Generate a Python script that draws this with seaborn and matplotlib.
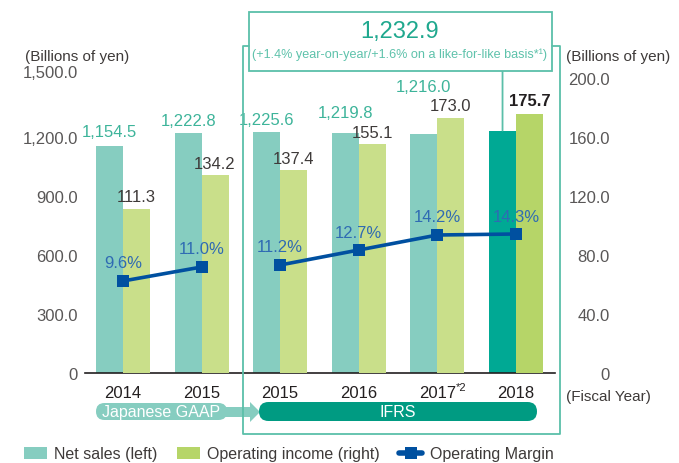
import numpy as np
import pandas as pd
import matplotlib
matplotlib.use("Agg")
import matplotlib.pyplot as plt
import seaborn as sns
from matplotlib.patches import FancyBboxPatch, Rectangle, Polygon, Patch
from matplotlib.lines import Line2D
from matplotlib.transforms import Affine2D, ScaledTranslation

# ---- data -------------------------------------------------------------
periods = ["2014 J-GAAP", "2015 J-GAAP", "2015 IFRS", "2016 IFRS", "2017 IFRS", "2018 IFRS"]
year_labels = ["2014", "2015", "2015", "2016", "2017", "2018"]
year_notes = ["", "", "", "", "*2", ""]
standards = ["Japanese GAAP", "Japanese GAAP", "IFRS", "IFRS", "IFRS", "IFRS"]
net_sales = [1154.5, 1222.8, 1225.6, 1219.8, 1216.0, 1232.9]          # billions of yen
operating_income = [111.3, 134.2, 137.4, 155.1, 173.0, 175.7]         # billions of yen
operating_margin = [9.6, 11.0, 11.2, 12.7, 14.2, 14.3]                # %
left_ticks = [0, 300, 600, 900, 1200, 1500]
right_ticks = [0, 40, 80, 120, 160, 200]
series_names = ["Net sales (left)", "Operating income (right)", "Operating Margin"]

# ---- styling ----------------------------------------------------------
sns.set_style("white")
plt.rcParams["font.family"] = ["Liberation Sans", "DejaVu Sans"]

TEAL = "#86cdc0"
TEAL_DARK = "#00a994"
GREEN = "#c9df8a"
GREEN_DARK = "#b6d568"
BLUE = "#0050a0"
BLUE_TXT = "#2f6bb3"
SALES_TXT = "#3db49a"
FRAME = "#5bbfa9"
IFRS_FILL = "#009b82"
INK = "#3e3a39"
TICK_GREY = "#595757"

W, H = 679, 464
fig = plt.figure(figsize=(W / 100, H / 100), dpi=100)
# pixel coordinates measured from the top-left corner of the figure
T = Affine2D().scale(1 / W, -1 / H).translate(0, 1) + fig.transFigure

ax1 = fig.add_axes([85 / W, (H - 374) / H, 470 / W, 295 / H])
ax2 = ax1.twinx()
ax3 = ax1.twinx()

BAR_W = 0.686
half = BAR_W / 4

df_sales = pd.DataFrame({"period": periods, "series": series_names[0], "value": net_sales})
df_income = pd.DataFrame({"period": periods, "series": series_names[1], "value": operating_income})
palette = {series_names[0]: TEAL, series_names[1]: GREEN}

sns.barplot(data=df_sales, x="period", y="value", hue="series", hue_order=series_names[:2],
            order=periods, palette=palette, width=BAR_W, dodge=True, errorbar=None,
            saturation=1, linewidth=0, legend=False, ax=ax1)
sns.barplot(data=df_income, x="period", y="value", hue="series", hue_order=series_names[:2],
            order=periods, palette=palette, width=BAR_W, dodge=True, errorbar=None,
            saturation=1, linewidth=0, legend=False, ax=ax2)

# latest fiscal year highlighted in stronger tones
max(ax1.patches, key=lambda p: p.get_x()).set_facecolor(TEAL_DARK)
max(ax2.patches, key=lambda p: p.get_x()).set_facecolor(GREEN_DARK)

df_margin = pd.DataFrame({"x": np.arange(len(periods)), "margin": operating_margin,
                          "standard": standards})
sns.lineplot(data=df_margin, x="x", y="margin", units="standard", estimator=None, sort=False,
             color=BLUE, lw=2.6, marker="s", markersize=8.5, markeredgewidth=0,
             legend=False, ax=ax3)

# ---- axes -------------------------------------------------------------
ax1.set_xlim(-0.483, 5.496)
ax1.set_ylim(0, 1500)
ax2.set_ylim(0, 200)
ax3.set_ylim(0.4, 29.9)
ax3.set_axis_off()

ax1.set_xticks(range(len(periods)))
ax1.set_xticklabels(year_labels)
ax1.tick_params(axis="x", length=0, pad=9, labelsize=12, labelcolor="#231f20")
for i, note in enumerate(year_notes):
    if note:
        ax1.annotate(note, xy=(i, 0), xycoords=("data", "axes fraction"), xytext=(18, -14),
                     textcoords="offset pixels", ha="left", va="center", fontsize=8,
                     color="#231f20")
ax1.set_yticks(left_ticks)
ax1.set_yticklabels(["0" if v == 0 else f"{v:,.1f}" for v in left_ticks])
ax1.tick_params(axis="y", length=0, pad=5, labelsize=12, labelcolor=TICK_GREY)
ax2.set_yticks(right_ticks)
ax2.set_yticklabels(["0" if v == 0 else f"{v:,.1f}" for v in right_ticks], ha="right")
ax2.tick_params(axis="y", length=0, pad=39.6, labelsize=12, labelcolor=TICK_GREY)
for a in (ax1, ax2):
    a.set_xlabel("")
    a.set_ylabel("")
    for s in a.spines.values():
        s.set_visible(False)
ax1.spines["bottom"].set_visible(True)
ax1.spines["bottom"].set_color("#231f20")
ax1.spines["bottom"].set_linewidth(1.2)

top_lbl = ax1.get_yticklabels()[-1]
top_lbl.set_transform(top_lbl.get_transform() + ScaledTranslation(0, 7 / 100, fig.dpi_scale_trans))

# ---- value labels -----------------------------------------------------
sales_offsets = [14, 12.5, 12, 21, 47]
for i, v in enumerate(net_sales[:-1]):
    ax1.annotate(f"{v:,.1f}", (i - half, v), xytext=(0, sales_offsets[i]),
                 textcoords="offset pixels", ha="center", va="center",
                 fontsize=12, color=SALES_TXT)
for i, v in enumerate(operating_income):
    last = i == len(operating_income) - 1
    ax2.annotate(f"{v:,.1f}", (i + half, v), xytext=(0, 13 if last else 12),
                 textcoords="offset pixels", ha="center", va="center",
                 fontsize=12, color="#231f20" if last else INK,
                 fontweight="bold" if last else "normal")
for i, v in enumerate(operating_margin):
    ax3.annotate(f"{v:.1f}%", (i, v), xytext=(0, 18), textcoords="offset pixels",
                 ha="center", va="center", fontsize=12, color=BLUE_TXT)

# ---- unit captions ----------------------------------------------------
fig.text(25, 57, "(Billions of yen)", transform=T, ha="left", va="center", fontsize=11, color=INK)
fig.text(566, 57, "(Billions of yen)", transform=T, ha="left", va="center", fontsize=11, color=INK)
fig.text(566, 397, "(Fiscal Year)", transform=T, ha="left", va="center", fontsize=11, color=INK)

# ---- IFRS frame and call-out for the latest net sales ----------------
fig.add_artist(Line2D([249, 243, 243, 560, 560, 552], [47, 47, 435, 435, 47, 47],
                      transform=T, color=FRAME, lw=1.3))
fig.add_artist(Rectangle((249, 13), 303, 59, transform=T, facecolor="white",
                         edgecolor=FRAME, lw=1.3))
fig.text(400, 32, f"{net_sales[-1]:,.1f}", transform=T, ha="center", va="center",
         fontsize=17, color="#1fa88e")
fig.text(400, 55, "(+1.4% year-on-year/+1.6% on a like-for-like basis*¹)", transform=T,
         ha="center", va="center", fontsize=9.1, color="#5ec2ab")
ax1.annotate("", xy=(len(periods) - 1 - half, net_sales[-1]), xycoords="data",
             xytext=(len(periods) - 1 - half, 1 - 72 / H), textcoords=("data", "figure fraction"),
             arrowprops=dict(arrowstyle="-", color=FRAME, lw=1.3, shrinkA=0, shrinkB=0))

# ---- accounting standard bands -----------------------------------------
fig.add_artist(FancyBboxPatch((96, 404), 131, 17, boxstyle="round,pad=0,rounding_size=8.5",
                              transform=T, facecolor=TEAL, edgecolor="none"))
fig.add_artist(Rectangle((220, 408), 31, 10, transform=T, facecolor=TEAL, edgecolor="none"))
fig.add_artist(Polygon([(250, 403), (260, 413), (250, 423)], closed=True, transform=T,
                       facecolor=TEAL, edgecolor="none"))
fig.text(161, 413, "Japanese GAAP", transform=T, ha="center", va="center",
         fontsize=11.5, color="white")
fig.add_artist(FancyBboxPatch((259, 403), 278, 19, boxstyle="round,pad=0,rounding_size=9.5",
                              transform=T, facecolor=IFRS_FILL, edgecolor="none"))
fig.text(398, 413, "IFRS", transform=T, ha="center", va="center", fontsize=11.5, color="white")

# ---- legend -----------------------------------------------------------
handles = [Patch(facecolor=TEAL, edgecolor="none"),
           Patch(facecolor=GREEN_DARK, edgecolor="none"),
           Line2D([], [], color=BLUE, lw=4, marker="s", markersize=9, markeredgewidth=0)]
leg = fig.legend(handles, series_names, loc="center left", bbox_to_anchor=(24 / W, 1 - 455 / H),
                 ncol=3, frameon=False, fontsize=11.5, handlelength=1.45, handleheight=0.8,
                 handletextpad=0.45, columnspacing=1.2, borderpad=0, borderaxespad=0)
for t in leg.get_texts():
    t.set_color(INK)

fig.savefig("out.png", dpi=100)
